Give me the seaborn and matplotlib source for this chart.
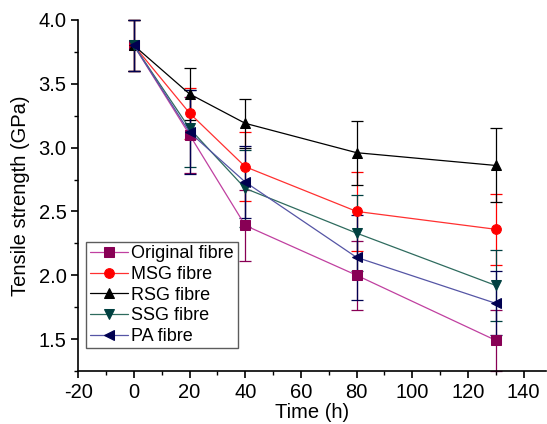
"""
Tensile strength of fibres vs ageing time
"""
import numpy as np
import pandas as pd
import matplotlib
matplotlib.use("Agg")
import matplotlib.pyplot as plt
from matplotlib.ticker import MultipleLocator
import seaborn as sns

# Data
time_h = [0, 20, 40, 80, 130]
series_names = ["Original fibre", "MSG fibre", "RSG fibre", "SSG fibre", "PA fibre"]

original = [3.80, 3.10, 2.39, 2.00, 1.49]
msg = [3.80, 3.27, 2.85, 2.50, 2.36]
rsg = [3.80, 3.42, 3.19, 2.96, 2.86]
ssg = [3.80, 3.15, 2.68, 2.33, 1.92]
pa = [3.80, 3.12, 2.73, 2.14, 1.78]

original_err = [0.20, 0.30, 0.28, 0.27, 0.24]
msg_err = [0.20, 0.20, 0.27, 0.31, 0.28]
rsg_err = [0.20, 0.20, 0.19, 0.25, 0.29]
ssg_err = [0.20, 0.30, 0.30, 0.30, 0.28]
pa_err = [0.20, 0.33, 0.28, 0.33, 0.25]

values = [original, msg, rsg, ssg, pa]
errors = [original_err, msg_err, rsg_err, ssg_err, pa_err]

# Styling
line_colors = ["#c040a0", "#ff3030", "#000000", "#2e6b5e", "#5555a5"]
marker_colors = ["#880055", "#ff0000", "#000000", "#004040", "#000050"]
markers = ["s", "o", "^", "v", "<"]

sns.set_style("ticks", {"text.color": "black", "axes.labelcolor": "black",
                        "xtick.color": "black", "ytick.color": "black",
                        "axes.edgecolor": "black"})
plt.rcParams["font.family"] = ["Liberation Sans", "DejaVu Sans"]
plt.rcParams["axes.unicode_minus"] = False

fig = plt.figure(figsize=(5.47, 4.24), dpi=100)
ax = fig.add_axes([0.143, 0.125, 0.855, 0.828])

for name, vals, errs, lc, mc, mk in zip(series_names, values, errors,
                                        line_colors, marker_colors, markers):
    ax.errorbar(time_h, vals, yerr=errs, fmt="none", ecolor=mc, elinewidth=0.9,
                capsize=4, capthick=0.9, clip_on=False, zorder=2)
    df = pd.DataFrame({"Time": time_h, "Strength": vals})
    sns.lineplot(data=df, x="Time", y="Strength", ax=ax, color=lc, lw=0.9,
                 marker=mk, markersize=7, markerfacecolor=mc, markeredgecolor=mc,
                 label=name, zorder=3)

ax.set_xlim(-20, 148)
ax.set_ylim(1.25, 4.0)
ax.xaxis.set_major_locator(MultipleLocator(20))
ax.xaxis.set_minor_locator(MultipleLocator(10))
ax.yaxis.set_major_locator(MultipleLocator(0.5))
ax.yaxis.set_minor_locator(MultipleLocator(0.25))
ax.yaxis.set_major_formatter(matplotlib.ticker.FormatStrFormatter("%.1f"))
ax.tick_params(which="major", direction="out", length=5, width=1.2, labelsize=14.5,
               colors="black")
ax.tick_params(which="minor", direction="out", length=3, width=1.0, colors="black")

for side in ["top", "right"]:
    ax.spines[side].set_visible(False)
for side in ["left", "bottom"]:
    ax.spines[side].set_linewidth(1.2)
    ax.spines[side].set_color("black")

ax.set_xlabel("Time (h)", fontsize=14.5, labelpad=1, color="black")
ax.set_ylabel("Tensile strength (GPa)", fontsize=14.5, labelpad=6, color="black")

leg = ax.legend(loc="upper left", bbox_to_anchor=(0.017, 0.368), borderaxespad=0,
                fontsize=13, frameon=True, fancybox=False, handlelength=2.1,
                handletextpad=0.2, labelspacing=0.2, borderpad=0.2)
leg.get_frame().set_edgecolor("#333333")
leg.get_frame().set_linewidth(1.0)
for t in leg.get_texts():
    t.set_color("black")

plt.savefig("out.png", dpi=100)
plt.close()
